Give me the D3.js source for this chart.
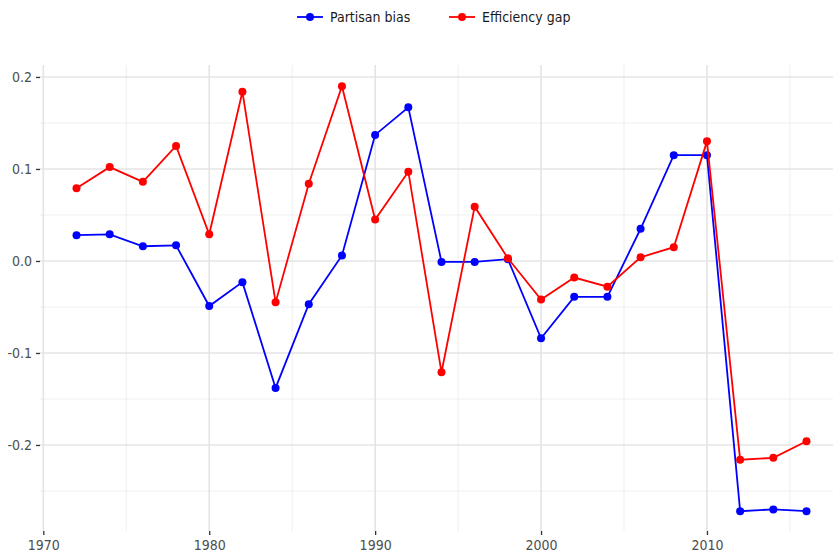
<!DOCTYPE html>
<html>
<head>
<meta charset="utf-8">
<script src="https://cdn.jsdelivr.net/npm/d3@7"></script>
<style>
  body { margin: 0; background: #fff; }
  text { font-family: "Liberation Sans Narrow", "DejaVu Sans Condensed", "Arial Narrow", sans-serif; }
</style>
</head>
<body>
<div id="chart"></div>
<script>
// election years
var years = [1972, 1974, 1976, 1978, 1980, 1982, 1984, 1986, 1988, 1990, 1992, 1994,
             1996, 1998, 2000, 2002, 2004, 2006, 2008, 2010, 2012, 2014, 2016];

var partisanBias = [0.028, 0.029, 0.016, 0.017, -0.049, -0.023, -0.138, -0.047, 0.006, 0.137, 0.167, -0.001,
                    -0.001, 0.002, -0.084, -0.039, -0.039, 0.035, 0.115, 0.115, -0.272, -0.270, -0.272];

var efficiencyGap = [0.079, 0.102, 0.086, 0.125, 0.029, 0.184, -0.045, 0.084, 0.190, 0.045, 0.097, -0.121,
                     0.059, 0.003, -0.042, -0.018, -0.028, 0.004, 0.015, 0.130, -0.216, -0.214, -0.196];

var seriesNames = ["Partisan bias", "Efficiency gap"];
var seriesColors = ["#0000ff", "#ff0000"];

var xMajor = [1970, 1980, 1990, 2000, 2010];
var xMinor = [1975, 1985, 1995, 2005, 2015];
var yMajor = [-0.2, -0.1, 0.0, 0.1, 0.2];
var yMinor = [-0.25, -0.15, -0.05, 0.05, 0.15];

var W = 833, H = 557;
var panel = {left: 40, right: 843, top: 65, bottom: 531};

var x = d3.scaleLinear().domain([1969.8, 2018.2]).range([panel.left, panel.right]);
var y = d3.scaleLinear().domain([-0.2935, 0.213]).range([panel.bottom, panel.top]);

var svg = d3.select("#chart").append("svg")
    .attr("width", W)
    .attr("height", H);

// grid lines
var grid = svg.append("g");
grid.selectAll(".ymin").data(yMinor).enter().append("line")
    .attr("x1", panel.left).attr("x2", W)
    .attr("y1", d => y(d)).attr("y2", d => y(d))
    .style("stroke", "#ebebeb").style("stroke-width", 0.8);
grid.selectAll(".xmin").data(xMinor).enter().append("line")
    .attr("y1", panel.top).attr("y2", panel.bottom)
    .attr("x1", d => x(d)).attr("x2", d => x(d))
    .style("stroke", "#ebebeb").style("stroke-width", 0.8);
grid.selectAll(".ymaj").data(yMajor).enter().append("line")
    .attr("x1", panel.left).attr("x2", W)
    .attr("y1", d => y(d)).attr("y2", d => y(d))
    .style("stroke", "#e4e4e4").style("stroke-width", 1.6);
grid.selectAll(".xmaj").data(xMajor).enter().append("line")
    .attr("y1", panel.top).attr("y2", panel.bottom)
    .attr("x1", d => x(d)).attr("x2", d => x(d))
    .style("stroke", "#e4e4e4").style("stroke-width", 1.6);

// axes (plain hyphen for negatives, like the original)
var yFmt = function(d) { return d3.format(".1f")(d).replace("\u2212", "-"); };
var xAxis = svg.append("g")
    .attr("transform", "translate(0," + panel.bottom + ")")
    .call(d3.axisBottom(x).tickValues(xMajor).tickFormat(d3.format("d")).tickSize(4).tickPadding(5));
var yAxis = svg.append("g")
    .attr("transform", "translate(" + panel.left + ",0)")
    .call(d3.axisLeft(y).tickValues(yMajor).tickFormat(yFmt).tickSize(4).tickPadding(4));

[xAxis, yAxis].forEach(function(a) {
  a.select(".domain").remove();
  a.selectAll(".tick line").style("stroke", "#333").style("stroke-width", 1.3);
  a.selectAll(".tick text").style("fill", "#4d4d4d").style("font-size", "14px");
});

// series
var series = [partisanBias, efficiencyGap];
var line = d3.line()
    .x((d, i) => x(years[i]))
    .y(d => y(d));

series.forEach(function(vals, k) {
  svg.append("path")
      .datum(vals)
      .attr("d", line)
      .style("fill", "none")
      .style("stroke", seriesColors[k])
      .style("stroke-width", 1.8);
  svg.selectAll(".pt" + k)
      .data(vals)
      .enter().append("circle")
      .attr("cx", (d, i) => x(years[i]))
      .attr("cy", d => y(d))
      .attr("r", 4)
      .style("fill", seriesColors[k]);
});

// legend
var legend = svg.append("g").attr("transform", "translate(0,17)");
var legendX = [297, 449];
seriesNames.forEach(function(name, k) {
  var g = legend.append("g").attr("transform", "translate(" + legendX[k] + ",0)");
  g.append("line").attr("x1", 0).attr("x2", 26)
      .style("stroke", seriesColors[k]).style("stroke-width", 1.8);
  g.append("circle").attr("cx", 13).attr("r", 4).style("fill", seriesColors[k]);
  g.append("text").attr("x", 33).attr("dy", "0.35em")
      .style("font-size", "14px").style("fill", "#1a1a1a")
      .text(name);
});
</script>
</body>
</html>
